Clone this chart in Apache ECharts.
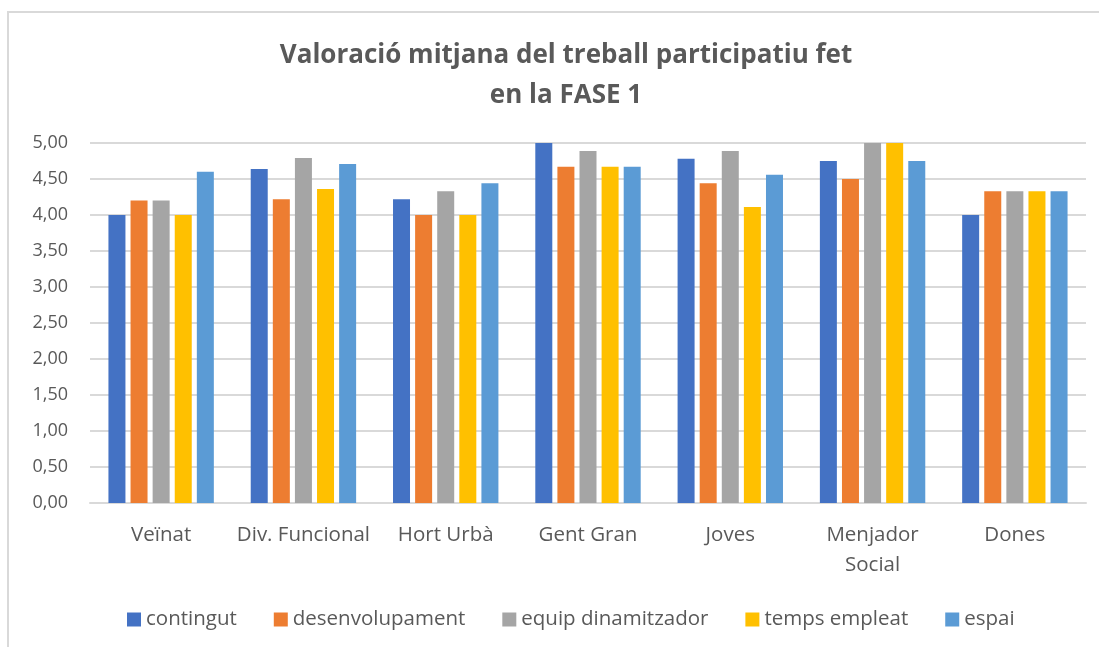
<!DOCTYPE html>
<html>
<head>
<meta charset="utf-8">
<script src="https://cdn.jsdelivr.net/npm/echarts@6/dist/echarts.min.js"></script>
<style>
html, body { margin: 0; padding: 0; background: #fff; }
.frame {
    position: absolute;
    left: 7px;
    top: 11px;
    width: 1200px;
    height: 700px;
    border-left: 2px solid #d9d9d9;
    border-top: 2px solid #d9d9d9;
}
#chart { position: absolute; left: 0; top: 0; width: 1099px; height: 647px; }
</style>
</head>
<body>
<div class="frame"></div>
<div id="chart"></div>
<script>
// categories and series values
const categories = ['Veïnat', 'Div. Funcional', 'Hort Urbà', 'Gent Gran', 'Joves', 'Menjador\nSocial', 'Dones'];
const contingut = [4.00, 4.64, 4.22, 5.00, 4.78, 4.75, 4.00];
const desenvolupament = [4.20, 4.22, 4.00, 4.67, 4.44, 4.50, 4.33];
const equipDinamitzador = [4.20, 4.79, 4.33, 4.89, 4.89, 5.00, 4.33];
const tempsEmpleat = [4.00, 4.36, 4.00, 4.67, 4.11, 5.00, 4.33];
const espai = [4.60, 4.71, 4.44, 4.67, 4.56, 4.75, 4.33];

const seriesNames = ['contingut', 'desenvolupament', 'equip dinamitzador', 'temps empleat', 'espai'];
const seriesData = [contingut, desenvolupament, equipDinamitzador, tempsEmpleat, espai];
const colors = ['#4472C4', '#ED7D31', '#A5A5A5', '#FFC000', '#5B9BD5'];

const font = '"Open Sans", sans-serif';

let chart = echarts.init(document.getElementById('chart'));
let option = {
    animation: false,
    color: colors,
    title: {
        text: 'Valoració mitjana del treball participatiu fet\nen la FASE 1',
        left: 561,
        top: 31,
        textAlign: 'center',
        textStyle: {
            fontFamily: font,
            fontSize: 26,
            fontWeight: 'bold',
            color: '#595959',
            lineHeight: 40
        }
    },
    legend: {
        data: seriesNames,
        left: 122,
        top: 604,
        itemWidth: 14,
        itemHeight: 14,
        itemGap: 37,
        icon: 'rect',
        textStyle: { fontFamily: font, fontSize: 20.5, color: '#595959' }
    },
    grid: {
        left: 90,
        right: 13,
        top: 143,
        bottom: 144
    },
    xAxis: {
        type: 'category',
        data: categories,
        axisTick: { show: false },
        axisLine: { lineStyle: { color: '#d9d9d9', width: 2 } },
        axisLabel: {
            interval: 0,
            fontFamily: font,
            fontSize: 20.5,
            color: '#595959',
            margin: 17,
            lineHeight: 30
        }
    },
    yAxis: {
        type: 'value',
        min: 0,
        max: 5,
        interval: 0.5,
        axisLine: { show: false },
        axisTick: { show: false },
        splitLine: { lineStyle: { color: '#d9d9d9', width: 2 } },
        axisLabel: {
            fontFamily: font,
            fontSize: 18,
            color: '#595959',
            margin: 22,
            formatter: v => v.toFixed(2).replace('.', ',')
        }
    },
    series: seriesNames.map((name, i) => ({
        name: name,
        type: 'bar',
        data: seriesData[i],
        barWidth: 17,
        barGap: '30%'
    }))
};
chart.setOption(option);
</script>
</body>
</html>
